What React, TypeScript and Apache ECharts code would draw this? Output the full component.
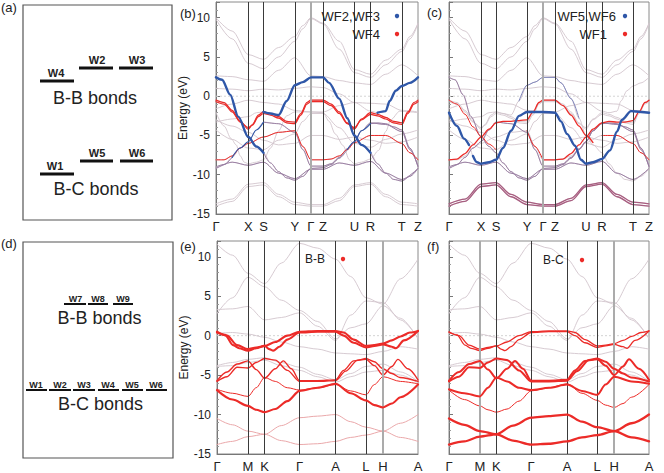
import React, { useEffect, useRef } from 'react';
import * as echarts from 'echarts';

type Pt = [number, number];
const FONT = '"Liberation Sans", Arial, Helvetica, sans-serif';

// ---------- k-path ticks ----------
const K_BC_POS = [0, 16, 23.5, 39, 47, 53, 68.5, 76.5, 92, 100];
const K_BC_LABELS = ['Γ', 'X', 'S', 'Y', 'Γ', 'Z', 'U', 'R', 'T', 'Z'];
const K_EF_POS = [0, 15.4, 23.7, 41.1, 59, 74.1, 82.6, 100];
const K_EF_LABELS = ['Γ', 'M', 'K', 'Γ', 'A', 'L', 'H', 'A'];
const FERMI: Pt[] = [[0, 0], [100, 0]];

// ---------- bands shared by panels (b) and (c) : [k, E(eV)] ----------
const bc1: Pt[] = [[0,10.0],[8,8.3],[16,5.3],[23.5,4.7],[31,6.2],[39,7.6],[43,9.0],[47,10.0],[53,9.3],[61,7.0],[68.5,3.4],[76.5,2.8],[84,4.6],[92,6.0],[96,7.6],[100,9.3]];
const bc2: Pt[] = [[0,9.8],[8,7.3],[16,4.2],[23.5,3.5],[31,5.0],[39,7.0],[43,8.6],[47,9.9],[53,9.2],[61,6.0],[68.5,3.0],[76.5,2.4],[84,4.0],[92,5.7],[96,7.3],[100,9.2]];
const bc3: Pt[] = [[0,2.6],[8,2.5],[16,2.1],[23.5,1.9],[31,3.3],[39,4.9],[47,2.6],[53,2.5],[61,2.0],[68.5,1.7],[76.5,1.5],[84,2.8],[92,4.0],[100,2.6]];
const bc4: Pt[] = [[0,1.0],[8,0.9],[16,0.7],[23.5,0.9],[31,0.8],[39,1.0],[47,1.2],[53,1.1],[61,0.3],[68.5,-0.8],[76.5,-1.9],[80,-2.1],[84,-1.9],[86,-0.6],[89,0.7],[92,1.3],[96,1.7],[100,2.4]];
const bc5: Pt[] = [[0,2.4],[3,2.1],[7,0.2],[11,-2.6],[16,-5.2],[20,-6.4],[23.5,-7.2],[27,-8.5],[31,-9.6],[35,-10.4],[39,-10.7],[43,-10.2],[47,-9.2],[53,-9.1],[57,-8.7],[61,-7.9],[65,-6.8],[68.5,-5.8],[72,-4.4],[76.5,-3.5],[80,-3.4],[84,-3.5],[88,-3.9],[92,-4.3],[96,-6.6],[100,-9.0]];
const bc6: Pt[] = [[0,-3.3],[8,-2.9],[16,-2.6],[20,-2.1],[23.5,-2.0],[27,-2.2],[31,-2.4],[35,-0.6],[39,1.4],[43,1.8],[47,2.4],[53,2.4],[56,1.7],[61,-0.3],[65,-2.8],[68.5,-5.0],[72,-6.2],[76.5,-7.2],[80,-8.6],[84,-9.8],[88,-10.6],[92,-10.8],[96,-10.2],[100,-9.2]];
const bc7: Pt[] = [[0,-0.5],[4,-0.8],[8,-1.8],[12,-3.2],[16,-4.2],[18,-3.6],[21,-2.4],[23.5,-2.0],[27,-2.2],[31,-2.6],[35,-3.2],[39,-3.3],[42,-2.2],[45,-0.8],[47,-0.5],[53,-0.5],[57,-1.0],[61,-2.0],[65,-3.4],[68.5,-4.2],[72,-2.9],[76.5,-2.1],[80,-2.3],[84,-2.7],[88,-3.2],[92,-3.4],[95,-2.0],[98,-0.8],[100,-0.5]];
const bc8: Pt[] = [[0,-0.7],[4,-1.0],[8,-2.0],[12,-3.3],[16,-4.0],[18,-3.7],[21,-2.6],[23.5,-2.2],[27,-2.4],[31,-2.8],[35,-3.4],[39,-3.5],[42,-2.4],[45,-1.0],[47,-0.7],[53,-0.7],[57,-1.2],[61,-2.2],[65,-3.5],[68.5,-4.0],[72,-3.0],[76.5,-2.3],[80,-2.5],[84,-2.9],[88,-3.4],[92,-3.6],[95,-2.2],[98,-1.0],[100,-0.7]];
const bc9: Pt[] = [[0,-8.1],[4,-8.1],[8,-7.6],[12,-6.6],[16,-6.0],[23.5,-5.2],[31,-4.6],[39,-4.4],[43,-6.4],[47,-8.1],[53,-8.1],[57,-8.0],[61,-7.6],[65,-6.8],[68.5,-5.9],[76.5,-5.0],[84,-5.0],[92,-6.0],[96,-7.2],[100,-8.1]];
const bc10: Pt[] = [[0,-9.0],[4,-8.7],[8,-7.8],[12,-6.6],[16,-5.8],[20,-4.3],[23.5,-3.3],[31,-3.5],[39,-4.6],[43,-6.8],[47,-8.9],[53,-8.9],[57,-8.6],[61,-7.8],[65,-6.7],[68.5,-5.8],[72,-4.4],[76.5,-3.4],[84,-3.6],[92,-4.5],[96,-6.8],[100,-8.9]];
const bc11: Pt[] = [[0,-2.1],[4,-3.8],[7.5,-5.4],[10,-6.2],[12,-7.6],[14,-8.4],[16,-8.6],[20,-8.4],[23.5,-8.1],[27,-6.6],[31,-4.4],[35,-2.5],[39,-2.0],[47,-2.0],[53,-2.1],[56,-3.2],[59,-4.8],[63,-6.3],[66,-8.1],[68.5,-8.6],[72,-8.4],[76.5,-8.0],[80.5,-6.9],[84,-4.5],[86.5,-3.0],[91,-1.9],[96,-2.0],[100,-2.1]];
const bc12: Pt[] = [[0,-4.3],[8,-5.5],[16,-6.6],[23.5,-6.8],[31,-5.6],[39,-4.8],[43,-3.2],[47,-2.2],[53,-2.2],[61,-4.0],[68.5,-6.0],[76.5,-6.5],[84,-5.5],[92,-4.8],[100,-4.3]];
const bc13: Pt[] = [[0,-13.7],[8,-13.1],[16,-11.2],[23.5,-11.0],[31,-12.5],[39,-13.5],[47,-13.8],[53,-13.8],[61,-13.0],[68.5,-11.3],[76.5,-11.0],[84,-12.5],[92,-13.5],[100,-13.7]];
const bc14: Pt[] = [[0,-14.0],[8,-13.4],[16,-11.5],[23.5,-11.3],[31,-12.8],[39,-13.8],[47,-14.0],[53,-14.0],[61,-13.3],[68.5,-11.5],[76.5,-11.2],[84,-12.8],[92,-13.8],[100,-14.0]];
const bc15: Pt[] = [[0,-9.2],[8,-8.4],[16,-8.8],[23.5,-8.4],[31,-9.8],[39,-10.5],[47,-9.3],[53,-9.3],[61,-8.5],[68.5,-8.8],[76.5,-8.3],[84,-9.8],[92,-10.6],[100,-9.2]];
const bc16: Pt[] = [[0,-3.0],[8,-3.8],[16,-4.6],[23.5,-5.6],[31,-6.2],[39,-6.0],[47,-5.0],[53,-5.0],[61,-5.5],[68.5,-5.2],[76.5,-5.6],[84,-6.0],[92,-5.8],[100,-5.2]];
const bc17: Pt[] = [[0,-1.6],[8,-1.0],[16,-0.5],[23.5,-0.8],[31,-1.0],[39,-1.8],[47,-2.0],[53,-2.0],[61,-1.2],[68.5,-0.8],[76.5,-0.9],[84,-1.0],[92,-1.8],[100,-2.0]];
const BC_BANDS = [bc1, bc2, bc3, bc4, bc5, bc6, bc7, bc8, bc9, bc10, bc11, bc12, bc13, bc14, bc15, bc16, bc17];

// WF1 weighted paths in panel (c)
const cRed1: Pt[] = [[0,-8.1],[4,-8.0],[8,-7.3],[12,-6.2],[16,-5.2],[20,-4.2],[23.5,-3.4],[27,-3.2],[31,-3.2],[35,-3.1],[39,-3.0],[42,-2.0],[45,-0.8],[47,-0.5],[53,-0.5],[57,-1.2],[61,-2.4],[65,-3.8],[68.5,-5.0],[72,-5.9]];
const cRed2: Pt[] = [[0,-0.5],[4,-1.0],[8,-2.3],[12,-3.9],[16,-5.1],[20,-6.1],[23.5,-6.8]];
const cRed3: Pt[] = [[47,-8.1],[53,-8.1],[57,-8.0],[61,-7.3],[65,-6.2],[68.5,-5.2],[72,-4.2],[76.5,-3.4],[80,-3.2],[84,-3.3],[88,-3.3],[92,-3.1],[95,-2.0],[98,-0.8],[100,-0.5]];

// ---------- bands shared by panels (e) and (f) ----------
const ef1: Pt[] = [[0,11.6],[7.7,10.2],[15.4,7.9],[23.7,6.6],[32,9.2],[41.1,11.7],[50,11.1],[59,9.7],[66.5,7.5],[74.1,4.8],[82.6,4.0],[91.3,7.2],[100,9.7]];
const ef2: Pt[] = [[0,2.8],[7.7,4.8],[15.4,7.4],[23.7,6.2],[32,4.5],[41.1,3.2],[50,1.8],[59,-0.4],[66.5,1.0],[74.1,1.5],[82.6,3.8],[91.3,2.2],[100,-0.4]];
const ef3: Pt[] = [[0,3.3],[7.7,3.4],[15.4,3.7],[23.7,2.0],[32,2.3],[41.1,2.9],[50,1.2],[59,-0.6],[66.5,2.6],[74.1,4.4],[82.6,4.2],[91.3,2.0],[100,-0.3]];
const ef4: Pt[] = [[0,0.3],[7.7,0.4],[15.4,0.2],[23.7,-0.2],[32,-0.8],[41.1,-1.4],[50,-1.7],[59,-2.2],[66.5,-2.3],[74.1,-2.4],[82.6,-2.0],[91.3,-1.4],[100,-1.7]];
const ef5: Pt[] = [[0,-3.8],[7.7,-3.4],[15.4,-3.0],[23.7,-2.8],[32,-3.4],[41.1,-4.0],[50,-4.9],[59,-5.6],[66.5,-4.8],[74.1,-3.9],[82.6,-3.6],[91.3,-4.6],[100,-5.8]];
const ef6: Pt[] = [[0,-3.9],[7.7,-3.8],[15.4,-3.4],[23.7,-3.1],[32,-3.8],[41.1,-4.4],[50,-5.2],[59,-5.9],[66.5,-5.2],[74.1,-4.6],[82.6,-4.4],[91.3,-5.0],[100,-6.0]];
const ev1: Pt[] = [[0,0.5],[5,0.0],[10,-1.2],[15.4,-1.7],[19.5,-1.5],[23.7,-1.3],[29,-0.8],[35,0.0],[41.1,0.5],[50,0.6],[59,0.6],[63,0.4],[68,-0.5],[74.1,-1.3],[78.3,-1.2],[82.6,-1.0],[87,-0.6],[91.3,-0.1],[96,0.4],[100,0.6]];
const ev2: Pt[] = [[0,0.4],[4,0.1],[8,-1.2],[11,-1.6],[15.4,-1.9],[19.5,-1.6],[23.7,-1.3],[26,-1.7],[28,-1.9],[31,-1.4],[35,-0.5],[41.1,0.4],[50,0.5],[59,0.5],[63,0.0],[68,-0.9],[74.1,-1.5],[78.3,-1.3],[82.6,-1.1],[87,-1.4],[89,-1.6],[93,-0.6],[100,0.6]];
const er3: Pt[] = [[0,-5.7],[5,-4.6],[10,-3.6],[15.4,-3.2],[19.5,-4.3],[23.7,-5.4],[29,-4.2],[33,-3.2],[37,-4.2],[41.1,-5.7],[50,-5.7],[59,-5.6],[63,-4.4],[68,-3.2],[74.1,-3.0],[78.3,-3.8],[82.6,-5.0],[87,-3.9],[90,-3.0],[95,-4.2],[100,-5.6]];
const er4: Pt[] = [[0,-5.8],[5,-5.2],[10,-4.0],[15.4,-4.1],[19.5,-3.4],[23.7,-2.9],[29,-3.1],[35,-4.4],[41.1,-5.8],[50,-5.8],[59,-5.7],[64,-4.5],[70,-3.1],[74.1,-2.9],[78.3,-3.3],[82.6,-4.2],[87,-4.8],[91,-5.3],[100,-5.8]];
const er5: Pt[] = [[0,-6.8],[7.7,-7.3],[15.4,-7.7],[19.5,-6.6],[23.7,-5.3],[29,-5.8],[35,-6.6],[41.1,-6.9],[50,-6.6],[59,-6.2],[66.5,-7.0],[74.1,-7.5],[78.3,-6.2],[82.6,-5.2],[91.3,-5.8],[100,-6.1]];
const er6: Pt[] = [[0,-6.9],[7.7,-8.1],[15.4,-8.9],[19.5,-9.4],[23.7,-9.7],[29,-9.3],[35,-8.3],[41.1,-7.0],[50,-6.6],[59,-6.1],[66.5,-7.3],[74.1,-8.2],[78.3,-8.8],[82.6,-9.1],[87,-8.6],[91.3,-7.8],[100,-6.2]];
const eb1: Pt[] = [[0,-10.5],[7.7,-11.3],[15.4,-12.1],[23.7,-12.5],[32,-11.4],[41.1,-10.4],[50,-10.2],[59,-10.0],[66.5,-10.9],[74.1,-11.6],[82.6,-12.1],[91.3,-11.1],[100,-10.0]];
const eb2: Pt[] = [[0,-13.8],[7.7,-13.4],[15.4,-12.8],[23.7,-12.5],[32,-13.3],[41.1,-13.8],[50,-13.7],[59,-13.4],[66.5,-12.9],[74.1,-12.6],[82.6,-12.1],[91.3,-12.9],[100,-13.4]];
const EF_GRAY = [ef1, ef2, ef3, ef4, ef5, ef6];

// ---------- colours ----------
const GRAY = '#d3c5cd';
const PURPLE = '#94789f';
const BLUE = '#2f57a8';
const RED = '#ec2b28';
const PINK = '#eaa8aa';
const PLUM = '#a85e80';

const sl = (b: Pt[], a: number, z: number): Pt[] => b.filter((p) => p[0] >= a - 1e-6 && p[0] <= z + 1e-6);

function mk(ix: number, data: Pt[], color: string, width: number, z: number): any {
  return {
    type: 'line', xAxisIndex: ix, yAxisIndex: ix, data, symbol: 'none', showSymbol: false,
    smooth: 0.3, smoothMonotone: 'x', silent: true, z,
    lineStyle: { color, width, cap: 'round', join: 'round' },
  };
}

function fermi(ix: number): any {
  return {
    type: 'line', xAxisIndex: ix, yAxisIndex: ix, data: FERMI, symbol: 'none', showSymbol: false, silent: true, z: 1,
    lineStyle: { color: '#d4d4d4', width: 1, type: [2, 2] },
  };
}

function vLines(ix: number, pos: number[], light: number[]): any {
  const data: any[] = pos.slice(1, -1).map((v) => ({
    xAxis: v,
    lineStyle: light.includes(v) ? { color: '#ababab', width: 2, type: 'solid', opacity: 1 } : { color: '#3a3a3a', width: 1, type: 'solid', opacity: 1 },
  }));
  return {
    type: 'line', xAxisIndex: ix, yAxisIndex: ix, data: [], silent: true, z: 1,
    markLine: { silent: true, symbol: ['none', 'none'], label: { show: false }, animation: false, data },
  };
}

function buildOption(): any {
  const series: any[] = [];
  // panel (b)
  series.push(fermi(0), vLines(0, K_BC_POS, [47]));
  BC_BANDS.forEach((b) => series.push(mk(0, b, GRAY, 0.9, 2)));
  [sl(bc5, 23.5, 65), sl(bc5, 76.5, 100), sl(bc6, 76.5, 100), sl(bc10, 23.5, 100), sl(bc10, 0, 8), bc15].forEach((d) => series.push(mk(0, d, PURPLE, 0.9, 3)));
  series.push(mk(0, bc9, RED, 1, 4));
  series.push(mk(0, bc7, RED, 1.2, 4));
  series.push(mk(0, bc8, RED, 1.2, 4));
  [sl(bc10, 8, 23.5), sl(bc5, 65, 76.5)].forEach((d) => series.push(mk(0, d, BLUE, 1.1, 5)));
  [sl(bc5, 0, 23.5), sl(bc6, 23.5, 76.5), sl(bc4, 80, 100)].forEach((d) => series.push(mk(0, d, BLUE, 2.4, 6)));

  // panel (c)
  series.push(fermi(1), vLines(1, K_BC_POS, [47]));
  BC_BANDS.forEach((b) => series.push(mk(1, b, GRAY, 0.9, 2)));
  [bc5, bc10, bc15].forEach((d) => series.push(mk(1, d, PURPLE, 0.9, 3)));
  series.push(mk(1, sl(bc6, 35, 65), '#8188bd', 1, 3));
  [bc13, bc14].forEach((d) => series.push(mk(1, d, PLUM, 1.3, 3)));
  [sl(bc9, 39, 47), sl(bc9, 76.5, 100), cRed2].forEach((d) => series.push(mk(1, d, RED, 1, 4)));
  [cRed1, cRed3].forEach((d) => series.push(mk(1, d, RED, 1.3, 4)));
  [sl(bc11, 0, 10), sl(bc11, 12, 100)].forEach((d) => series.push(mk(1, d, BLUE, 2.4, 6)));

  // panel (e)
  series.push(fermi(2), vLines(2, K_EF_POS, [82.6]));
  EF_GRAY.forEach((b) => series.push(mk(2, b, GRAY, 0.9, 2)));
  [eb1, eb2].forEach((d) => series.push(mk(2, d, PINK, 1, 3)));
  series.push(mk(2, er5, RED, 1, 4));
  [er3, er4].forEach((d) => series.push(mk(2, d, RED, 1.4, 4)));
  [er6, ev1, ev2].forEach((d) => series.push(mk(2, d, RED, 2.1, 5)));

  // panel (f)
  series.push(fermi(3), vLines(3, K_EF_POS, [15.4, 82.6]));
  EF_GRAY.forEach((b) => series.push(mk(3, b, GRAY, 0.9, 2)));
  series.push(mk(3, er6, RED, 1, 4));
  [ev1, ev2].forEach((d) => series.push(mk(3, d, RED, 1.3, 4)));
  [er3, er4, er5].forEach((d) => series.push(mk(3, d, RED, 2, 5)));
  [eb1, eb2].forEach((d) => series.push(mk(3, d, RED, 2.3, 5)));

  const grids = [
    { left: 216, top: 2, width: 202, height: 212 },
    { left: 449, top: 2, width: 200, height: 212 },
    { left: 217, top: 241, width: 201, height: 214 },
    { left: 449, top: 241, width: 200, height: 214 },
  ].map((g) => ({ ...g, show: true, borderColor: '#8a8a8a', borderWidth: 1, backgroundColor: 'transparent' }));

  const xAxis = [0, 1, 2, 3].map((i) => {
    const pos = i < 2 ? K_BC_POS : K_EF_POS;
    const lab = i < 2 ? K_BC_LABELS : K_EF_LABELS;
    return {
      type: 'value', gridIndex: i, min: 0, max: 100,
      axisLine: { show: true, onZero: false, lineStyle: { color: '#777', width: 1 } },
      axisTick: { show: false },
      splitLine: { show: false },
      axisLabel: {
        customValues: pos,
        formatter: (v: number) => { const k = pos.findIndex((p) => Math.abs(p - v) < 1e-6); return k >= 0 ? lab[k] : ''; },
        fontSize: 13, color: '#222', margin: 6, fontFamily: FONT,
      },
    };
  });

  const yAxis = [0, 1, 2, 3].map((i) => ({
    type: 'value', gridIndex: i, min: -15, max: 12, interval: 5,
    axisLine: { show: true, onZero: false, lineStyle: { color: '#777', width: 1 } },
    axisTick: { show: true, inside: true, length: 4, lineStyle: { color: '#777' } },
    minorTick: { show: true, splitNumber: 5, length: 2, lineStyle: { color: '#999' } },
    splitLine: { show: false },
    axisLabel: {
      show: i === 0 || i === 2, showMaxLabel: false,
      formatter: (v: number) => (v > 10 ? '' : String(v)),
      fontSize: 12, color: '#222', margin: 6, fontFamily: FONT,
    },
    name: i === 0 || i === 2 ? 'Energy (eV)' : '',
    nameLocation: 'middle', nameGap: 23,
    nameTextStyle: { fontSize: 12, color: '#222', fontFamily: FONT },
  }));

  const T = (text: string, x: number, y: number, size: number, align = 'center', bold = false): any => ({
    type: 'text', x, y, silent: true, z: 100,
    style: {
      text, fill: '#222', fontSize: size, fontFamily: FONT, fontWeight: bold ? 'bold' : 'normal',
      align, textAlign: align, verticalAlign: 'middle', textVerticalAlign: 'middle',
    },
  });
  const L = (x1: number, x2: number, y: number, w: number): any => ({
    type: 'line', silent: true, z: 100, shape: { x1, y1: y, x2, y2: y }, style: { stroke: '#111', lineWidth: w },
  });
  const D = (x: number, y: number, c: string): any => ({
    type: 'circle', silent: true, z: 100, shape: { cx: x, cy: y, r: 2.2 }, style: { fill: c },
  });

  const graphic: any[] = [
    // panel (a)
    { type: 'rect', silent: true, shape: { x: 23, y: 5, width: 149, height: 215 }, style: { fill: 'none', stroke: '#555', lineWidth: 1.2 } },
    L(40, 74, 81, 3), L(79, 113, 68, 3), L(119, 153, 68, 3),
    T('W4', 56, 72.5, 11, 'center', true), T('W2', 97, 59.5, 11, 'center', true), T('W3', 137, 59.5, 11, 'center', true),
    T('B-B bonds', 95, 98, 18),
    L(40, 74, 174, 3), L(80, 113, 161, 3), L(120, 153, 161, 3),
    T('W1', 55, 166, 11, 'center', true), T('W5', 97, 153, 11, 'center', true), T('W6', 137, 153, 11, 'center', true),
    T('B-C bonds', 96, 189, 18),
    // panel (d)
    { type: 'rect', silent: true, shape: { x: 23, y: 242, width: 150, height: 216 }, style: { fill: 'none', stroke: '#555', lineWidth: 1.2 } },
    L(64, 86, 304, 2), L(88, 108, 304, 2), L(113, 133, 304, 2),
    T('W7', 75.5, 299, 9, 'center', true), T('W8', 98, 299, 9, 'center', true), T('W9', 123, 299, 9, 'center', true),
    T('B-B bonds', 99.5, 317.5, 18),
    L(26, 47, 390, 2), L(49, 71, 390, 2), L(73, 95, 390, 2), L(98, 119, 390, 2), L(122, 143, 390, 2), L(146, 167, 390, 2),
    T('W1', 36, 384.5, 9, 'center', true), T('W2', 60, 384.5, 9, 'center', true), T('W3', 84, 384.5, 9, 'center', true),
    T('W4', 108, 384.5, 9, 'center', true), T('W5', 132, 384.5, 9, 'center', true), T('W6', 156, 384.5, 9, 'center', true),
    T('B-C bonds', 100.5, 404, 18),
    // panel tags
    T('(a)', 1, 7, 13, 'left'), T('(b)', 180, 13, 13, 'left'), T('(c)', 427, 12, 13, 'left'),
    T('(d)', 1, 243, 13, 'left'), T('(e)', 180, 246, 13, 'left'), T('(f)', 427, 246, 13, 'left'),
    // legends
    T('WF2,WF3', 380, 16, 13, 'right'), D(397, 16, BLUE),
    T('WF4', 380, 34, 13, 'right'), D(397, 34, RED),
    T('WF5,WF6', 616, 16, 13, 'right'), D(625, 16, BLUE),
    T('WF1', 607, 34, 13, 'right'), D(625, 34, RED),
    T('B-B', 305, 259, 12, 'left'), D(343, 259, RED),
    T('B-C', 543, 260, 12, 'left'), D(582, 260, RED),
  ];

  return { animation: false, backgroundColor: '#fff', grid: grids, xAxis, yAxis, series, graphic };
}

export default function App() {
  const ref = useRef<HTMLDivElement>(null);
  useEffect(() => {
    const chart = echarts.init(ref.current as HTMLDivElement, null, { renderer: 'svg' });
    chart.setOption(buildOption());
    return () => chart.dispose();
  }, []);
  return <div ref={ref} style={{ position: 'fixed', left: 0, top: 0, width: 664, height: 473, background: '#fff' }} />;
}
